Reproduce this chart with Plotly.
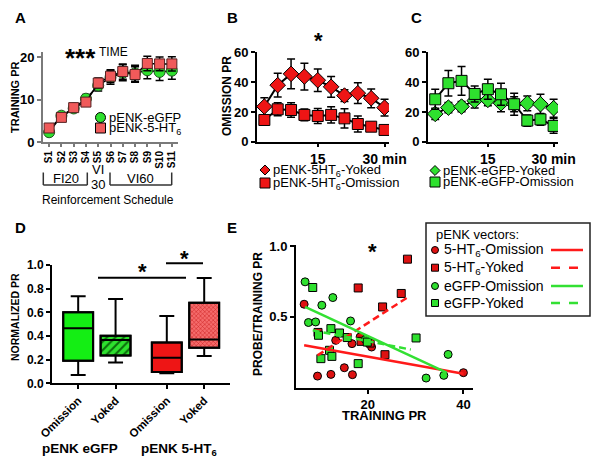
import plotly.graph_objects as go

W, H = 600, 465
FONT = "Liberation Sans, Arial, sans-serif"

# ---------------- Panel A: training PR per session ----------------
sessions = ["S1", "S2", "S3", "S4", "S5", "S6", "S7", "S8", "S9", "S10", "S11"]
a_egfp = [2.3, 6.2, 7.9, 10.2, 13.3, 15.2, 16.3, 16.2, 16.9, 16.5, 16.8]
a_egfp_sem = [0.6, 0.7, 0.8, 1.0, 1.3, 1.6, 1.9, 1.9, 2.0, 2.0, 2.0]
a_5ht6 = [3.3, 5.8, 8.1, 9.4, 13.9, 15.5, 16.6, 15.9, 18.5, 18.4, 18.4]
a_5ht6_sem = [0.5, 0.6, 0.8, 0.9, 1.2, 1.5, 1.8, 1.8, 1.7, 1.6, 1.7]

# ---------------- Panels B, C: omission PR over time ----------------
minutes = [3, 6, 9, 12, 15, 18, 21, 24, 27, 30]
b_yoked = [23.6, 38.0, 45.6, 43.8, 41.3, 36.9, 31.0, 32.6, 29.2, 22.9]
b_yoked_sem = [6.0, 8.0, 10.0, 9.0, 7.6, 7.0, 4.0, 7.0, 6.3, 5.6]
b_omis = [14.6, 21.8, 21.3, 18.0, 17.3, 18.0, 15.7, 11.9, 10.1, 7.9]
b_omis_sem = [1.5, 4.3, 4.8, 4.0, 5.0, 5.5, 6.5, 5.4, 3.0, 2.0]

c_yoked = [18.7, 22.9, 23.6, 27.6, 28.1, 25.8, 25.2, 25.8, 25.2, 22.5]
c_yoked_sem = [3.8, 3.4, 3.4, 5.0, 4.0, 5.6, 5.0, 5.0, 6.7, 6.0]
c_omis = [28.5, 39.3, 40.9, 32.1, 35.3, 31.9, 25.2, 14.2, 15.0, 10.6]
c_omis_sem = [6.7, 8.5, 9.7, 5.4, 6.7, 7.4, 7.4, 3.8, 4.0, 5.0]

# ---------------- Panel D: normalized PR box plots ----------------
d_labels = ["Omission", "Yoked", "Omission", "Yoked"]
d_low = [0.07, 0.175, 0.085, 0.23]
d_q1 = [0.19, 0.234, 0.096, 0.30]
d_med = [0.465, 0.366, 0.217, 0.37]
d_q3 = [0.60, 0.403, 0.344, 0.68]
d_high = [0.735, 0.713, 0.569, 0.89]

# ---------------- Panel E: probe/training vs training PR ----------------
e_ht6_om_x = [6.7, 9.5, 12.3, 13.3, 15.1, 16.7, 16.8, 18.4, 19.8, 20.8, 40.0]
e_ht6_om_y = [0.589, 0.082, 0.094, 0.334, 0.141, 0.311, 0.092, 0.358, 0.33, 0.287, 0.106]
e_ht6_yk_x = [9.6, 18.0, 18.6, 20.5, 23.1, 23.6, 27.0, 28.3]
e_ht6_yk_y = [0.39, 0.704, 0.327, 0.315, 0.57, 0.233, 0.665, 0.907]
e_gfp_om_x = [6.9, 7.6, 9.1, 10.4, 12.7, 16.4, 19.5, 32.2, 35.9, 36.8]
e_gfp_om_y = [0.747, 0.46, 0.464, 0.582, 0.636, 0.471, 0.34, 0.068, 0.087, 0.235]
e_gfp_yk_x = [8.5, 9.7, 10.2, 12.0, 12.3, 12.5, 14.1, 15.7, 18.0, 19.9, 30.1]
e_gfp_yk_y = [0.707, 0.37, 0.205, 0.264, 0.417, 0.221, 0.386, 0.354, 0.17, 0.322, 0.351]
# regression line end points
e_fit_ht6_om_x, e_fit_ht6_om_y = [6.7, 40.0], [0.299, 0.099]
e_fit_ht6_yk_x, e_fit_ht6_yk_y = [9.5, 28.5], [0.228, 0.641]
e_fit_gfp_om_x, e_fit_gfp_om_y = [6.9, 36.5], [0.57, 0.106]
e_fit_gfp_yk_x, e_fit_gfp_yk_y = [8.5, 29.0], [0.405, 0.269]

# ---------------- styling / layout helpers ----------------
GREEN = "#2ee02e"
GREEN_BOX = "#14ee14"
RED = "#ee1515"
RED_A = "#f05a5a"
RED_LIGHT = "#f56b6b"

d_pos = [0, 1, 2.37, 3.37]
d_width = 0.80


def px(v):
    return v / W


def py(v):
    return 1 - v / H


def dom_x(a, b):
    return [px(a), px(b)]


def dom_y(top, bottom):
    return [py(bottom), py(top)]


def ax(**kw):
    base = dict(showline=True, linecolor="black", linewidth=2, ticks="outside",
                ticklen=4, tickwidth=2, tickcolor="black", showgrid=False,
                zeroline=False, fixedrange=True, automargin=False,
                tickfont=dict(family=FONT, size=13, color="black", weight="bold"))
    base.update(kw)
    return base


fig = go.Figure()

err = lambda arr: dict(type="data", array=arr, color="black", thickness=1.5, width=4)

# Panel A
fig.add_trace(go.Scatter(x=sessions, y=a_egfp, error_y=err(a_egfp_sem), mode="lines+markers",
                         line=dict(color="black", width=1.5),
                         marker=dict(symbol="circle", size=11, color=GREEN, line=dict(color="#225522", width=1)),
                         xaxis="x", yaxis="y", showlegend=False))
fig.add_trace(go.Scatter(x=sessions, y=a_5ht6, error_y=err(a_5ht6_sem), mode="lines+markers",
                         line=dict(color="black", width=1.5),
                         marker=dict(symbol="square", size=10, color=RED_A, line=dict(color="#552222", width=1)),
                         xaxis="x", yaxis="y", showlegend=False))

# Panel B
fig.add_trace(go.Scatter(x=minutes, y=b_yoked, error_y=err(b_yoked_sem), mode="lines+markers",
                         line=dict(color="black", width=2),
                         marker=dict(symbol="diamond", size=12, color=RED, line=dict(color="black", width=1)),
                         xaxis="x2", yaxis="y2", showlegend=False))
fig.add_trace(go.Scatter(x=minutes, y=b_omis, error_y=err(b_omis_sem), mode="lines+markers",
                         line=dict(color="black", width=2),
                         marker=dict(symbol="square", size=11, color=RED, line=dict(color="black", width=1)),
                         xaxis="x2", yaxis="y2", showlegend=False))

# Panel C
fig.add_trace(go.Scatter(x=minutes, y=c_yoked, error_y=err(c_yoked_sem), mode="lines+markers",
                         line=dict(color="black", width=2),
                         marker=dict(symbol="diamond", size=12, color=GREEN, line=dict(color="black", width=1)),
                         xaxis="x3", yaxis="y3", showlegend=False))
fig.add_trace(go.Scatter(x=minutes, y=c_omis, error_y=err(c_omis_sem), mode="lines+markers",
                         line=dict(color="black", width=2),
                         marker=dict(symbol="square", size=11, color=GREEN, line=dict(color="black", width=1)),
                         xaxis="x3", yaxis="y3", showlegend=False))

# Panel D: boxes as bars (for hatching) + box traces for whiskers / medians
d_fill = [GREEN_BOX, GREEN, RED, RED_LIGHT]
d_pattern = [dict(shape=""),
             dict(shape="/", fgcolor="#0b6b0b", bgcolor=GREEN, size=6, solidity=0.35, fillmode="replace"),
             dict(shape=""),
             dict(shape="x", fgcolor="#c81e1e", bgcolor=RED_LIGHT, size=3, solidity=0.3, fillmode="replace")]
for i in range(4):
    fig.add_trace(go.Bar(x=[d_pos[i]], y=[d_q3[i] - d_q1[i]], base=[d_q1[i]], width=d_width,
                         marker=dict(color=d_fill[i], line=dict(color="black", width=2), pattern=d_pattern[i]),
                         xaxis="x4", yaxis="y4", showlegend=False, hoverinfo="skip"))
for i in range(4):
    fig.add_trace(go.Box(x=[d_pos[i]], q1=[d_q1[i]], median=[d_med[i]], q3=[d_q3[i]],
                         lowerfence=[d_low[i]], upperfence=[d_high[i]], width=d_width,
                         fillcolor="rgba(0,0,0,0)", line=dict(color="black", width=2),
                         whiskerwidth=0.5, boxpoints=False,
                         xaxis="x4", yaxis="y4", showlegend=False, hoverinfo="skip"))

# Panel E
mk = lambda sym, col: dict(symbol=sym, size=8, color=col, line=dict(color="black", width=1))
fig.add_trace(go.Scatter(x=e_ht6_om_x, y=e_ht6_om_y, mode="markers", marker=mk("circle", "#dd1111"),
                         xaxis="x5", yaxis="y5", showlegend=False))
fig.add_trace(go.Scatter(x=e_ht6_yk_x, y=e_ht6_yk_y, mode="markers", marker=mk("square", "#dd1111"),
                         xaxis="x5", yaxis="y5", showlegend=False))
fig.add_trace(go.Scatter(x=e_gfp_om_x, y=e_gfp_om_y, mode="markers", marker=mk("circle", GREEN),
                         xaxis="x5", yaxis="y5", showlegend=False))
fig.add_trace(go.Scatter(x=e_gfp_yk_x, y=e_gfp_yk_y, mode="markers", marker=mk("square", GREEN),
                         xaxis="x5", yaxis="y5", showlegend=False))
fig.add_trace(go.Scatter(x=e_fit_ht6_om_x, y=e_fit_ht6_om_y, mode="lines",
                         line=dict(color="#ff1a1a", width=2.5), xaxis="x5", yaxis="y5", showlegend=False))
fig.add_trace(go.Scatter(x=e_fit_ht6_yk_x, y=e_fit_ht6_yk_y, mode="lines",
                         line=dict(color="#ff1a1a", width=2.5, dash="7px,4px"), xaxis="x5", yaxis="y5", showlegend=False))
fig.add_trace(go.Scatter(x=e_fit_gfp_om_x, y=e_fit_gfp_om_y, mode="lines",
                         line=dict(color="#33e033", width=2.5), xaxis="x5", yaxis="y5", showlegend=False))
fig.add_trace(go.Scatter(x=e_fit_gfp_yk_x, y=e_fit_gfp_yk_y, mode="lines",
                         line=dict(color="#33e033", width=2.5, dash="7px,4px"), xaxis="x5", yaxis="y5", showlegend=False))

# ---------------- axes ----------------
layout = dict(
    template="none",
    width=W, height=H, autosize=False, margin=dict(l=0, r=0, t=0, b=0, pad=0),
    paper_bgcolor="white", plot_bgcolor="rgba(0,0,0,0)",
    barmode="overlay", boxmode="overlay", hovermode=False,
    font=dict(family=FONT, color="black"),
    xaxis=ax(domain=dom_x(43, 178), anchor="y", type="category", range=[-0.5, 10.5],
             tickmode="array", tickvals=sessions, ticktext=sessions,
             tickangle=-90, ticklen=3, linecolor="#7a7a7a", tickcolor="#7a7a7a",
             tickfont=dict(family=FONT, size=10, color="black", weight="bold")),
    yaxis=ax(domain=dom_y(52, 142), anchor="x", range=[0, 21.2], tickvals=[0, 10, 20],
             linecolor="#7a7a7a", tickcolor="#7a7a7a"),
    xaxis2=ax(domain=dom_x(257, 389), anchor="y2", range=[1.35, 31], tickvals=[15, 30],
              ticktext=["15", "30 min"], ticklen=3,
              tickfont=dict(family=FONT, size=14, color="black", weight="bold")),
    yaxis2=ax(domain=dom_y(52, 141.7), anchor="x2", range=[0, 60.3], tickvals=[0, 20, 40, 60]),
    xaxis3=ax(domain=dom_x(428, 558), anchor="y3", range=[1.35, 31], tickvals=[15, 30],
              ticktext=["15", "30 min"], ticklen=3,
              tickfont=dict(family=FONT, size=14, color="black", weight="bold")),
    yaxis3=ax(domain=dom_y(52, 141.7), anchor="x3", range=[0, 60.3], tickvals=[0, 20, 40, 60]),
    xaxis4=ax(domain=dom_x(52, 230), anchor="y4", range=[-0.70, 4.06], tickvals=d_pos,
              ticktext=d_labels, tickangle=-45,
              tickfont=dict(family=FONT, size=11.5, color="black", weight="bold")),
    yaxis4=ax(domain=dom_y(265, 383.3), anchor="x4", range=[0, 1.0],
              tickvals=[0, 0.2, 0.4, 0.6, 0.8, 1.0], tickformat=".1f",
              tickfont=dict(family=FONT, size=12, color="black", weight="bold")),
    xaxis5=ax(domain=dom_x(296, 473), anchor="y5", range=[5, 42], tickvals=[20, 40],
              tickfont=dict(family=FONT, size=13, color="black", weight="bold")),
    yaxis5=ax(domain=dom_y(245, 387.7), anchor="x5", range=[0, 1.007], tickvals=[0.5, 1.0],
              ticktext=["0.5", "1.0"]),
)
fig.update_layout(**layout)

# ---------------- annotations ----------------
anns = []


def text(t, x, y, size, bold=False, xanchor="center", angle=0, yanchor="middle"):
    anns.append(dict(text=("<b>%s</b>" % t) if bold else t, x=px(x), y=py(y), xref="paper", yref="paper",
                     xanchor=xanchor, yanchor=yanchor, showarrow=False, textangle=angle,
                     font=dict(family=FONT, size=size, color="black")))


# panel letters
for letter, x, y in [("A", 20, 18), ("B", 233, 17), ("C", 417, 17), ("D", 20, 227), ("E", 232, 227)]:
    text(letter, x, y, 15, bold=True)

# Panel A texts
text("***", 80, 58, 26, bold=True)
text("TIME", 97, 52, 12, xanchor="left")
text("TRAINING PR", 15, 97, 11, bold=True, angle=-90)
text("pENK-eGFP", 107, 117.5, 13, xanchor="left")
text("pENK-5-HT<sub>6</sub>", 107, 128.5, 13, xanchor="left")
text("FI20", 65.7, 178, 13)
text("VI", 98.3, 169.5, 13)
text("30", 98.3, 184.3, 13)
text("VI60", 140.5, 178, 13)
text("Reinforcement Schedule", 108.3, 200, 12)

# Panel B texts
text("*", 318, 41, 22, bold=True)
text("OMISSION PR", 227, 96, 12, bold=True, angle=-90)
text("pENK-5HT<sub>6</sub>-Yoked", 271, 170, 13, xanchor="left")
text("pENK-5HT<sub>6</sub>-Omission", 271, 183.5, 13, xanchor="left")

# Panel C texts
text("pENK-eGFP-Yoked", 441, 170.5, 13, xanchor="left")
text("pENK-eGFP-Omission", 441, 182, 13, xanchor="left")

# Panel D texts
text("NORMALIZED PR", 15, 317, 10.5, bold=True, angle=-90)
text("*", 142, 271, 22, bold=True)
text("*", 184, 258, 22, bold=True)
text("pENK eGFP", 80, 448, 13.5, bold=True)
text("pENK 5-HT<sub>6</sub>", 179, 449, 13.5, bold=True)

# Panel E texts
text("*", 372.7, 251, 22, bold=True)
text("PROBE/TRAINING PR", 258, 314, 12, bold=True, angle=-90)
text("TRAINING PR", 384.3, 415, 13, bold=True)
text("pENK vectors:", 434, 234.5, 13, xanchor="left")
for lab, y in [("5-HT<sub>6</sub>-Omission", 250), ("5-HT<sub>6</sub>-Yoked", 267.7),
               ("eGFP-Omission", 286), ("eGFP-Yoked", 303)]:
    text(lab, 442, y, 14, xanchor="left")

# ---------------- shapes (brackets, significance bars, legend keys) ----------------
shapes = []


def seg(x0, y0, x1, y1, color="black", width=2, dash="solid"):
    shapes.append(dict(type="line", xref="paper", yref="paper", x0=px(x0), y0=py(y0), x1=px(x1), y1=py(y1),
                       line=dict(color=color, width=width, dash=dash), layer="above"))


def circle(cx, cy, d, color, lw=1):
    shapes.append(dict(type="circle", xref="paper", yref="paper", x0=px(cx - d / 2), x1=px(cx + d / 2),
                       y0=py(cy + d / 2), y1=py(cy - d / 2), fillcolor=color,
                       line=dict(color="black", width=lw), layer="above"))


def square(cx, cy, s, color, lw=1):
    shapes.append(dict(type="rect", xref="paper", yref="paper", x0=px(cx - s / 2), x1=px(cx + s / 2),
                       y0=py(cy + s / 2), y1=py(cy - s / 2), fillcolor=color,
                       line=dict(color="black", width=lw), layer="above"))


def diamond(cx, cy, r, color):
    pts = [(cx, cy - r), (cx + r, cy), (cx, cy + r), (cx - r, cy)]
    path = "M " + " L ".join("%f,%f" % (px(a), py(b)) for a, b in pts) + " Z"
    shapes.append(dict(type="path", xref="paper", yref="paper", path=path, fillcolor=color,
                       line=dict(color="black", width=1), layer="above"))


# A brackets
BR = "#333333"
seg(43.3, 172.5, 43.3, 185, BR, 1.5)
seg(87.3, 172.5, 87.3, 185, BR, 1.5)
seg(43.3, 185, 87.3, 185, BR, 1.5)
seg(110, 172.5, 110, 185, BR, 1.5)
seg(171.7, 172.5, 171.7, 185, BR, 1.5)
seg(110, 185, 171.7, 185, BR, 1.5)

# A legend keys
circle(100.5, 117.5, 10, GREEN)
square(100.5, 128, 10, RED_A)
# B legend keys
diamond(265, 170, 5, RED)
square(265, 183, 10, RED)
# C legend keys
diamond(435, 170.5, 5, GREEN)
square(435, 182, 10, GREEN)

# D significance bars
seg(98, 277.7, 186, 277.7, "black", 2)
seg(166, 263.3, 203, 263.3, "black", 2)

# E legend
shapes.append(dict(type="rect", xref="paper", yref="paper", x0=px(426), x1=px(590), y0=py(316), y1=py(223),
                   fillcolor="white", line=dict(color="#222222", width=1.5), layer="above"))
circle(435, 250, 7, "#dd1111")
square(435, 267.7, 7, "#dd1111")
circle(435, 286, 7, GREEN)
square(435, 303, 7, GREEN)
seg(551, 250, 583, 250, "#ff1a1a", 2.5)
seg(551, 267.7, 583, 267.7, "#ff1a1a", 2.5, "dash")
seg(551, 286, 583, 286, "#33e033", 2.5)
seg(551, 303, 583, 303, "#33e033", 2.5, "dash")

fig.update_layout(annotations=anns, shapes=shapes)
fig.write_html("out.html", config={"displayModeBar": False},
               post_script="document.body.style.margin='0px';document.body.style.overflow='hidden';")
